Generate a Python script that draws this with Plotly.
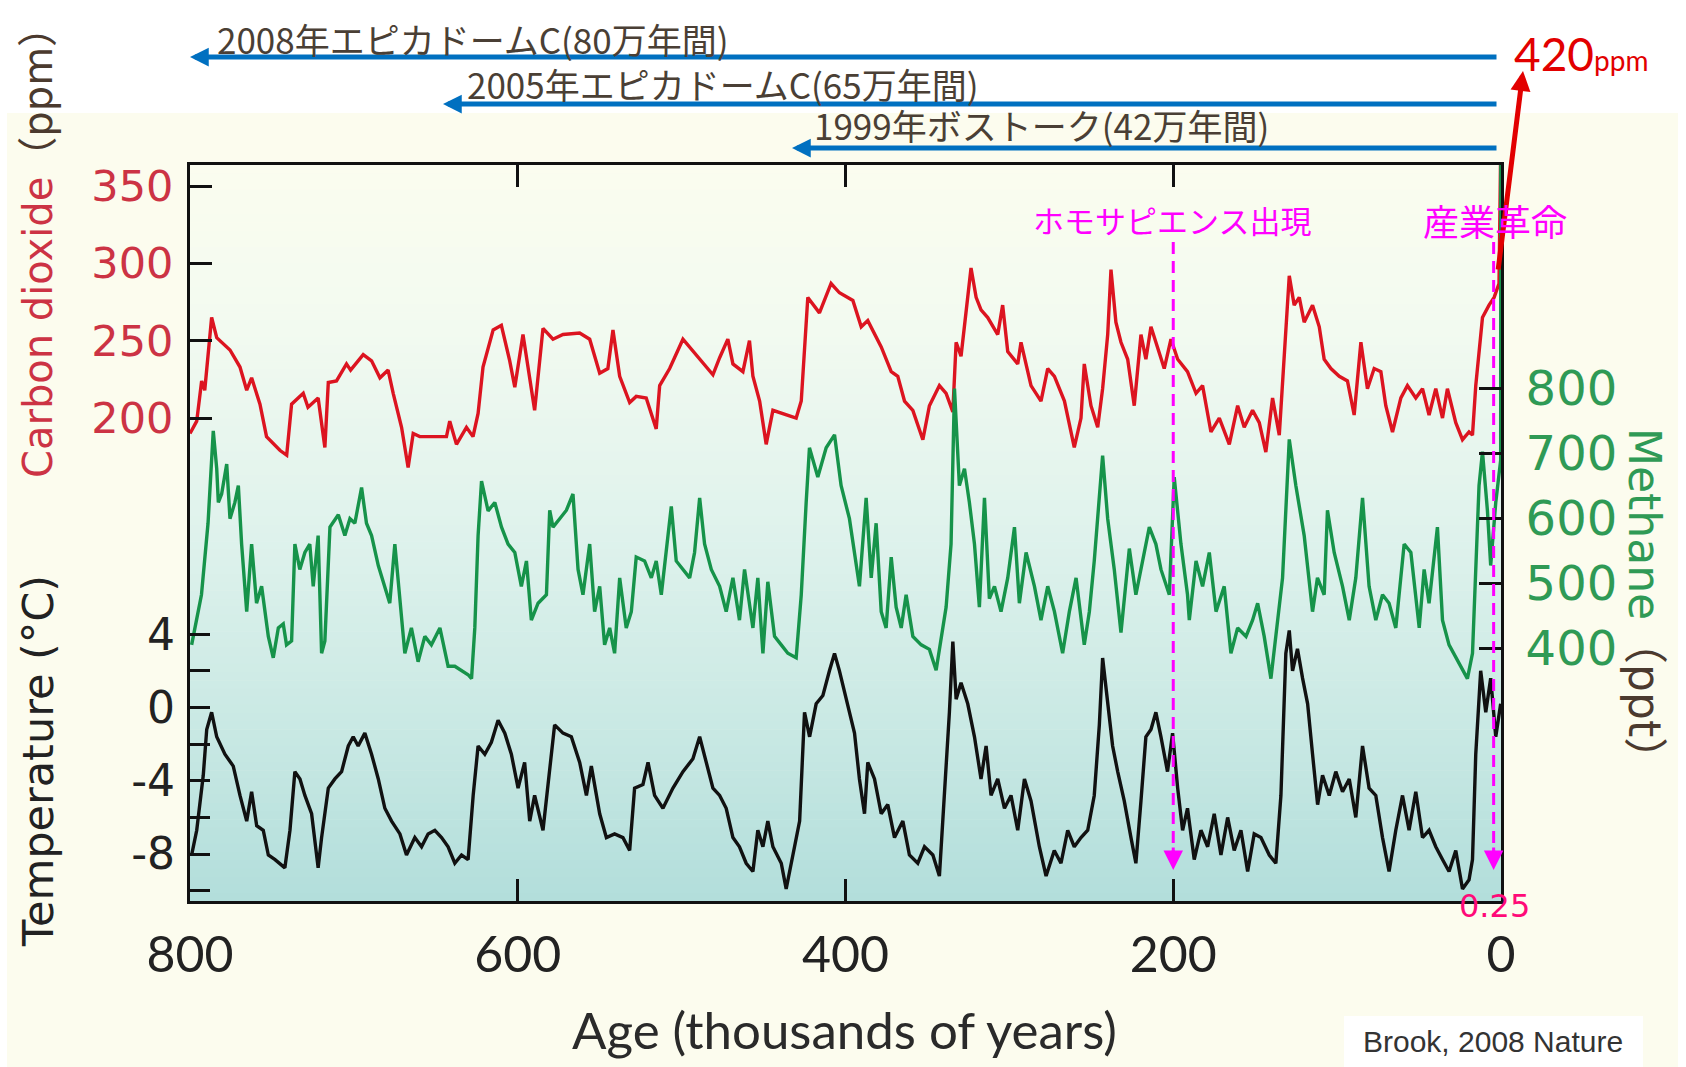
import plotly.graph_objects as go

W, H = 1686, 1067

# ---------------- data ----------------
co2_age = [800, 795.9, 792.9, 791, 786.8, 783.7, 775.6, 769.5, 765.4, 762.4, 757.3, 753.3, 745, 741, 738,
           730.9, 728, 721.8, 717.7, 715.6, 710.6, 704.5, 702, 694.3, 689.2, 684.1, 679.1, 676, 670.9,
           666.9, 663.8, 659.8, 643.5, 641.5, 637.4, 631.3, 627.3, 624.2, 621.2, 615, 610, 604.9, 601.8,
           596.8, 589.7, 584.6, 578.5, 572.4, 562.2, 556.1, 550, 545, 541.9, 537.8, 531.7, 527.7, 521.6,
           515.5, 513.4, 507.3, 499.2, 495.1, 489, 480.9, 476.8, 471.8, 468.7, 462.6, 458.6, 456.5, 452.4,
           448.4, 444.3, 436.2, 430.1, 427, 423, 415.9, 408.8, 403.7, 395.5, 390.4, 386.4, 378.2, 372.1,
           368.1, 364, 358.9, 352.8, 348.8, 342.7, 338.6, 334.5, 332.5, 329.5, 323.4, 320.3, 317.3, 313.2,
           307.1, 304.1, 301, 294.9, 292.9, 286.8, 280.7, 276.6, 272.5, 266.4, 260.4, 256.3, 254.3, 250.2,
           246.1, 243.1, 240, 238, 235, 231.9, 227.8, 223.8, 219.7, 216.7, 213.6, 209.5, 205.5, 201.4,
           197.3, 191.3, 186.1, 182.1, 177, 171.9, 165.8, 160.7, 156.7, 151.6, 147.5, 143.5, 139.4, 135.3,
           132.3, 129.2, 126.2, 123.1, 120.1, 115, 110.9, 107.9, 103.8, 98.7, 93.7, 89.6, 85.5, 81.5, 77.4,
           73.3, 70.3, 66.2, 61.1, 57.1, 52, 47.9, 43.9, 39.8, 35.7, 32.7, 27.6, 23.5, 19.5, 17.4, 15.4,
           11.3, 7.3, 4.2, 1.2, 0]
co2_ppm = [190, 198, 224, 218, 265, 252, 244, 233, 218, 226, 209, 188, 179, 176, 209,
           216, 207, 213, 181, 223, 224, 235, 231, 241, 237, 226, 231, 216, 194,
           168, 190, 188, 188, 198, 183, 194, 188, 203, 233, 257, 260, 237, 220,
           254, 205, 258, 251, 254, 255, 251, 229, 232, 257, 227, 210, 214, 213,
           193, 221, 232, 251, 246, 238, 228, 239, 251, 235, 230, 250, 227, 211,
           183, 205, 202, 200, 211, 278, 268, 287, 281, 276, 259, 263, 246, 230,
           227, 211, 205, 186, 208, 221, 216, 204, 249, 240, 297, 278, 270, 265,
           254, 273, 243, 235, 249, 221, 211, 232, 227, 211, 181, 200, 235, 208,
           194, 219, 254, 296, 262, 249, 238, 208, 254, 238, 259, 246, 232, 251,
           238, 230, 216, 221, 191, 200, 183, 208, 194, 205, 197, 178, 213, 189,
           240, 292, 273, 278, 262, 273, 259, 238, 232, 227, 224, 202, 249, 219, 232,
           230, 208, 191, 213, 221, 213, 219, 202, 219, 200, 219, 197, 186, 191, 189, 221,
           265, 273, 278, 287, 390]

ch4_age = [799, 796, 793, 789, 785.8, 783.7, 782.7, 780.7, 777.6, 775.6, 772.6, 770.5, 768.5, 765.4,
           762.4, 759.4, 756.3, 752.2, 749.2, 746.1, 743.1, 741.1, 738, 736, 733, 729.9, 726.9, 724.8,
           721.8, 719.7, 717.7, 714.6, 709.5, 705.5, 702.4, 699.4, 695.3, 692.3, 689.2, 685.1, 681.1,
           678.1, 675, 672, 668.9, 664.9, 660.8, 656.7, 652.7, 647.5, 642.5, 638.4, 634.3, 630.3, 628.2,
           626.2, 624.2, 622.1, 618.1, 614, 609.9, 605.9, 601.8, 597.8, 594.7, 591.7, 587.6, 582.5, 580.5,
           578.5, 574.4, 570.3, 566.3, 563.2, 560.2, 556.1, 553.1, 550, 547, 543.9, 540.9, 537.8, 533.8,
           530.7, 527.7, 522.6, 518.5, 515.5, 512.4, 509.4, 506.3, 503.3, 499.2, 495.1, 492.1, 489, 486,
           481.9, 476.8, 472.8, 468.7, 464.7, 461.6, 456.5, 453.5, 450.4, 447.4, 443.3, 439.2, 435.2,
           430.1, 427, 424, 422, 416.9, 411.8, 406.7, 402.7, 397.6, 391.5, 387.4, 384.3, 381.3, 378.2,
           375.2, 372.1, 369.1, 366, 363, 358.9, 353.8, 348.8, 344.7, 341.7, 338.6, 335.6, 333.5, 330.5,
           327.4, 324.4, 321.3, 318.3, 315.2, 312.2, 309.1, 305.1, 301, 296.9, 293.9, 289.8, 284.7, 280.7,
           276.6, 272.5, 267.5, 263.4, 259.3, 254.3, 251.2, 248.2, 243.1, 240, 236, 231.9, 226.8, 222.8,
           218.7, 214.6, 210.6, 207.5, 202.4, 199.4, 195.3, 191.3, 190.2, 186.1, 182.1, 178, 173.9, 168.9,
           164.8, 160.7, 155.6, 151.6, 148.5, 144.5, 140.4, 136.3, 133.3, 129.2, 125.2, 120.1, 115, 112,
           107.9, 105.9, 101.8, 96.7, 92.6, 88.6, 84.5, 80.5, 76.4, 72.3, 68.3, 64.2, 59.1, 55, 49.9, 46.9,
           43.9, 38.8, 35.7, 31.7, 27.6, 23.5, 20.5, 17.4, 15.4, 13.4, 11.3, 8.3, 6.3, 3.2, 0.2, 0]
ch4_ppb = [405, 443, 482, 592, 734, 676, 624, 637, 683, 599, 624, 650, 560, 456,
           560, 469, 495, 418, 385, 431, 437, 405, 411, 560, 521, 547, 560, 495,
           573, 392, 411, 586, 605, 573, 599, 592, 647, 592, 573, 527, 495,
           469, 560, 476, 392, 431, 379, 418, 405, 431, 372, 372, 366, 359, 353,
           431, 573, 657, 611, 624, 586, 560, 547, 495, 534, 443, 469, 482, 612,
           586, 599, 612, 637, 521, 482, 560, 456, 495, 405, 431, 392, 508, 431,
           456, 540, 534, 508, 534, 482, 547, 618, 534, 521, 508, 547, 631, 560,
           521, 495, 456, 508, 443, 521, 431, 508, 392, 502, 418, 405, 392,
           385, 482, 624, 708, 663, 708, 728, 650, 599, 495, 631, 508, 592, 456,
           431, 540, 463, 431, 482, 418, 405, 398, 366, 418, 463, 560, 799, 650,
           676, 624, 560, 463, 631, 476, 495, 456, 508, 586, 469, 547, 495, 443,
           495, 456, 392, 456, 508, 405, 456, 534, 696, 599, 521, 424, 553, 482,
           534, 586, 560, 521, 482, 663, 560, 482, 443, 534, 495, 547, 456, 495,
           392, 431, 418, 443, 469, 418, 353, 443, 508, 721, 650, 573, 456, 508,
           482, 612, 547, 495, 443, 508, 631, 495, 443, 482, 469, 431, 560, 547, 431, 521,
           469, 586, 443, 405, 385, 366, 353, 392, 508, 650, 702, 612, 527, 624, 689, 1800]

temp_age = [799, 795.9, 791.9, 789.8, 786.8, 783.7, 778.7, 773.6, 769.5, 765.4, 762.4, 759.3, 755.3,
            752.2, 748.1, 742.1, 739, 736, 732.9, 729.9, 725.8, 721.8, 719.7, 715.6, 711.6, 707.5, 703.4,
            700.4, 697.4, 693.3, 689.2, 685.1, 681.1, 677, 671.9, 667.9, 662.8, 658.7, 654.7, 650.6, 646.5,
            642.5, 638.4, 634.3, 630.3, 627.2, 624.2, 620.1, 616.1, 612, 607.9, 603.9, 599.8, 595.8, 592.7,
            589.7, 584.6, 580.5, 577.5, 572.4, 567.3, 562.2, 558.1, 555.1, 550, 545.9, 540.9, 535.8, 531.7,
            528.7, 523.6, 520.5, 516.5, 511.4, 505.3, 499.2, 493.1, 489, 485, 480.9, 476.8, 472.8, 468.7,
            464.7, 460.6, 456.5, 453.5, 450.4, 447.4, 444.3, 439.2, 436.2, 432.1, 428, 425, 421.9, 417.9,
            413.8, 409.8, 406.7, 403.7, 398.6, 394.5, 391.5, 388.4, 386.4, 382.3, 378.2, 374.2, 370.1, 365,
            361, 355.9, 351.8, 346.7, 342.7, 339.6, 336.6, 334.5, 332.5, 329.5, 325.4, 321.3, 317.3, 314.2,
            311.2, 307.1, 303, 299, 294.9, 290.8, 286.8, 281.7, 277.6, 272.6, 268.5, 264.4, 260.4, 256.3,
            252.2, 248.2, 245.1, 243.1, 240, 237, 233.9, 229.9, 225.8, 222.8, 219.7, 216.7, 213.6, 210.6,
            207.5, 203.5, 200.4, 197.3, 194.3, 191.3, 187.2, 183.1, 179, 175, 170.9, 166.8, 162.8, 158.7,
            154.6, 150.6, 146.5, 141.4, 137.4, 134.3, 131.3, 129.2, 127.2, 124.2, 121.1, 118, 115, 111.9,
            108.9, 104.8, 100.8, 96.7, 92.6, 88.6, 84.5, 80.5, 76.4, 72.3, 68.3, 64.2, 60.1, 56.1, 52, 47.9,
            43.9, 39.8, 35.7, 31.7, 27.6, 23.5, 19.5, 17.4, 15.4, 12.4, 9.3, 6.3, 3.2, 0.2]
temp_c = [-8.05, -6.7, -3.7, -1.2, -0.26, -1.6, -2.55, -3.2, -4.8, -6.2, -4.6, -6.45, -6.7,
          -8.05, -8.3, -8.75, -6.7, -3.5, -3.9, -4.8, -5.8, -8.75, -7.1, -4.4, -3.9, -3.5, -2.1,
          -1.6, -2.1, -1.4, -2.55, -3.9, -5.5, -6.2, -6.9, -8.05, -7.1, -7.6, -6.9, -6.7, -7.1,
          -7.6, -8.5, -8.05, -8.3, -4.8, -2.1, -2.55, -1.9, -0.7, -1.4, -2.55, -4.4, -3.0, -6.2,
          -4.8, -6.7, -3.5, -0.95, -1.4, -1.6, -3.0, -4.8, -3.2, -5.8, -7.1, -6.9, -7.1, -7.8,
          -4.4, -4.2, -3.0, -4.8, -5.5, -4.4, -3.5, -2.8, -1.6, -3.0, -4.4, -4.8, -5.5, -7.1,
          -7.6, -8.5, -8.95, -6.7, -7.6, -6.2, -7.6, -8.5, -9.9, -8.05, -6.2, -0.26, -1.6, 0.2,
          0.65, 2.0, 2.95, 2.0, 0.2, -1.4, -3.9, -5.8, -3.0, -3.9, -5.8, -5.3, -7.1, -6.2,
          -8.05, -8.5, -7.6, -8.05, -9.2, -4.8, -0.26, 3.6, 0.45, 1.35, 0.2, -1.6, -3.9, -2.1,
          -4.8, -3.9, -5.5, -4.8, -6.7, -3.9, -5.1, -7.6, -9.2, -7.8, -8.5, -6.7, -7.6, -7.1,
          -6.7, -4.8, -0.95, 2.7, 0.2, -2.1, -3.5, -5.1, -7.1, -8.5, -5.1, -1.6, -1.2, -0.26,
          -1.6, -3.5, -1.4, -4.4, -6.7, -5.5, -8.3, -6.7, -7.6, -5.8, -8.05, -6.0, -7.8, -6.7,
          -8.95, -6.9, -7.1, -8.05, -8.5, -4.8, 2.95, 4.2, 2.0, 3.2, 1.6, 0.2, -2.55, -5.3,
          -3.7, -4.8, -3.5, -4.6, -3.9, -6.0, -2.1, -4.4, -4.8, -7.1, -8.95, -6.7, -4.8, -6.7, -4.6, -7.1,
          -6.7, -7.6, -8.3, -8.95, -7.8, -9.9, -9.4, -8.3, -2.55, 2.0, -0.26, 1.6, -1.6, 0.2]

x_tickvals = [800, 600, 400, 200, 0]
co2_tickvals = [200, 250, 300, 350]
temp_tickvals = [-10, -8, -6, -4, -2, 0, 2, 4]
temp_ticktext = ["", "-8", "", "-4", "", "0", "", "4"]
ch4_tickvals = [400, 500, 600, 700, 800]

record_labels = ["2008年エピカドームC(80万年間)", "2005年エピカドームC(65万年間)", "1999年ボストーク(42万年間)"]
homo_label = "ホモサピエンス出現"
indus_label = "産業革命"
homo_age = 200
indus_age = 4.5


# ---------------- helpers (pixel -> paper) ----------------
def px(x):
    return x / W


def py(y):
    return 1 - y / H


PLOT_L, PLOT_R, PLOT_T, PLOT_B = 190, 1501, 165, 901

fig = go.Figure()

fig.add_trace(go.Scatter(x=temp_age, y=temp_c, mode="lines", yaxis="y2",
                         line=dict(color="#111111", width=3.4), hoverinfo="skip"))
fig.add_trace(go.Scatter(x=ch4_age, y=ch4_ppb, mode="lines", yaxis="y3",
                         line=dict(color="#16934a", width=3.4), hoverinfo="skip"))
fig.add_trace(go.Scatter(x=co2_age, y=co2_ppm, mode="lines", yaxis="y",
                         line=dict(color="#dc1420", width=3.4), hoverinfo="skip"))

shapes = []
# cream background of the original picture
shapes.append(dict(type="rect", xref="paper", yref="paper", x0=px(7), x1=px(1678), y0=0, y1=py(113),
                   fillcolor="#fcfcee", line=dict(width=0), layer="below"))


# vertical gradient inside the plot area (styling only)
def hex2rgb(h):
    h = h.lstrip("#")
    return [int(h[i:i + 2], 16) for i in (0, 2, 4)]


stops = [(165, "#fbfdef"), (330, "#f2faf0"), (540, "#def2ec"), (720, "#cae9e4"), (901, "#b2dedb")]
nb = 90
for i in range(nb):
    y0 = PLOT_T + (PLOT_B - PLOT_T) * i / nb
    y1 = PLOT_T + (PLOT_B - PLOT_T) * (i + 1) / nb
    ym = (y0 + y1) / 2
    for j in range(len(stops) - 1):
        if stops[j][0] <= ym <= stops[j + 1][0]:
            t = (ym - stops[j][0]) / (stops[j + 1][0] - stops[j][0])
            c0, c1 = hex2rgb(stops[j][1]), hex2rgb(stops[j + 1][1])
            c = [round(c0[k] + (c1[k] - c0[k]) * t) for k in range(3)]
            break
    shapes.append(dict(type="rect", xref="paper", yref="paper", x0=px(PLOT_L), x1=px(PLOT_R),
                       y0=py(y1 + 0.6), y1=py(y0), fillcolor="rgb(%d,%d,%d)" % tuple(c),
                       line=dict(width=0), layer="below"))

# white credit box
shapes.append(dict(type="rect", xref="paper", yref="paper", x0=px(1344), x1=px(1643), y0=py(1067), y1=py(1016),
                   fillcolor="#ffffff", line=dict(width=0), layer="below"))

# magenta dashed markers
for a in (homo_age, indus_age):
    shapes.append(dict(type="line", xref="x", yref="paper", x0=a, x1=a, y0=py(242), y1=py(855),
                       line=dict(color="#ff00ff", width=3, dash="12px,7px"), layer="above"))

fig.update_layout(shapes=shapes)

ann = []
JP = "Noto Sans CJK JP, DejaVu Sans"


def text_ann(x, y, text, font, xanchor="center", yanchor="middle", **kw):
    d = dict(x=px(x), y=py(y), xref="paper", yref="paper", showarrow=False, text=text,
             xanchor=xanchor, yanchor=yanchor, font=font)
    d.update(kw)
    return d


# blue record arrows
for (tipx, yy, tailx), lab, (tx, ty) in zip([(190, 57, 1498), (443, 104, 1498), (792, 148, 1498)],
                                         record_labels, [(215, 38), (465, 83), (812, 124)]):
    ann.append(dict(x=px(tipx), y=py(yy), xref="paper", yref="paper", ax=tailx - tipx, ay=0,
                    axref="pixel", ayref="pixel", showarrow=True, arrowhead=2, arrowsize=0.75,
                    arrowwidth=5, arrowcolor="#0070c0", text=""))
    ann.append(text_ann(tx, ty, lab, dict(family=JP, size=35, color="#4a3f35"), xanchor="left"))

# red arrow to 420 ppm
ann.append(dict(x=px(1523), y=py(71), xref="paper", yref="paper", ax=-25, ay=200, axref="pixel", ayref="pixel",
                showarrow=True, arrowhead=2, arrowsize=0.8, arrowwidth=5, arrowcolor="#e20000", text=""))
ann.append(text_ann(1512, 54, "420<span style='font-size:28px'>ppm</span>",
                    dict(family="Lato", size=46, color="#e20000"), xanchor="left"))

# magenta labels and arrowheads
ann.append(text_ann(1172, 220, homo_label, dict(family=JP, size=31, color="#ff00ff")))
ann.append(text_ann(1495, 220, indus_label, dict(family=JP, size=36, color="#ff00ff")))
for a in (homo_age, indus_age):
    ann.append(dict(x=a, y=py(870), xref="x", yref="paper", ax=0, ay=-24, axref="pixel", ayref="pixel",
                    showarrow=True, arrowhead=2, arrowsize=1.3, arrowwidth=3, arrowcolor="#ff00ff", text=""))
ann.append(text_ann(1494, 906, "0.25", dict(family="DejaVu Sans", size=32, color="#ff0a78")))

# axis titles
ann.append(text_ann(38, 243,
                    "<span style='color:#cc3344'>Carbon dioxide</span><span style='color:#4b3a2e'>（ppm）</span>",
                    dict(family="DejaVu Sans, Noto Sans CJK JP", size=40), textangle=-90))
ann.append(text_ann(38, 761, "Temperature (°C)", dict(family="DejaVu Sans", size=43, color="#222222"),
                    textangle=-90))
ann.append(text_ann(1645, 604,
                    "<span style='color:#2f9a55'>Methane</span><span style='color:#4b3a2e'>（ppt）</span>",
                    dict(family="DejaVu Sans, Noto Sans CJK JP", size=44), textangle=90))
ann.append(text_ann(844, 1029, "Age (thousands of years)", dict(family="Lato", size=51, color="#2a2a2a")))
ann.append(text_ann(1493, 1041, "Brook, 2008 Nature", dict(family="Liberation Sans", size=30, color="#333333")))

fig.update_layout(annotations=ann)

axis_line = dict(showline=True, linewidth=3, linecolor="#111111", showgrid=False, zeroline=False)

fig.update_layout(
    width=W, height=H, margin=dict(l=0, r=0, t=0, b=0, autoexpand=False),
    paper_bgcolor="#ffffff", plot_bgcolor="rgba(0,0,0,0)", showlegend=False,
    xaxis=dict(domain=[px(PLOT_L), px(PLOT_R)], range=[800, 0], tickmode="array", tickvals=x_tickvals,
               ticks="inside", ticklen=22, tickwidth=3, tickcolor="#111111", mirror="ticks",
               tickfont=dict(family="Lato", size=50, color="#222222"), ticklabelstandoff=8,
               **axis_line),
    yaxis=dict(domain=[py(PLOT_B), py(PLOT_T)], range=[-112.2, 363.6], tickmode="array",
               tickvals=co2_tickvals, ticks="inside", ticklen=22, tickwidth=3, tickcolor="#111111",
               tickfont=dict(family="DejaVu Sans", size=43, color="#cc3344"), ticklabelstandoff=5,
               anchor="x", side="left", **axis_line),
    yaxis2=dict(overlaying="y", range=[-10.56, 29.6], tickmode="array", tickvals=temp_tickvals,
                ticktext=temp_ticktext, ticks="inside", ticklen=20, tickwidth=3, tickcolor="#111111",
                tickfont=dict(family="DejaVu Sans", size=44, color="#222222"), ticklabelstandoff=14,
                anchor="x", side="left", showline=False, showgrid=False, zeroline=False),
    yaxis3=dict(overlaying="y", range=[11, 1143], tickmode="array", tickvals=ch4_tickvals,
                ticks="inside", ticklen=22, tickwidth=3, tickcolor="#111111",
                tickfont=dict(family="DejaVu Sans", size=48, color="#2f9a55"), ticklabelstandoff=12,
                anchor="x", side="right", **axis_line),
)

fig.write_html("out.html")
